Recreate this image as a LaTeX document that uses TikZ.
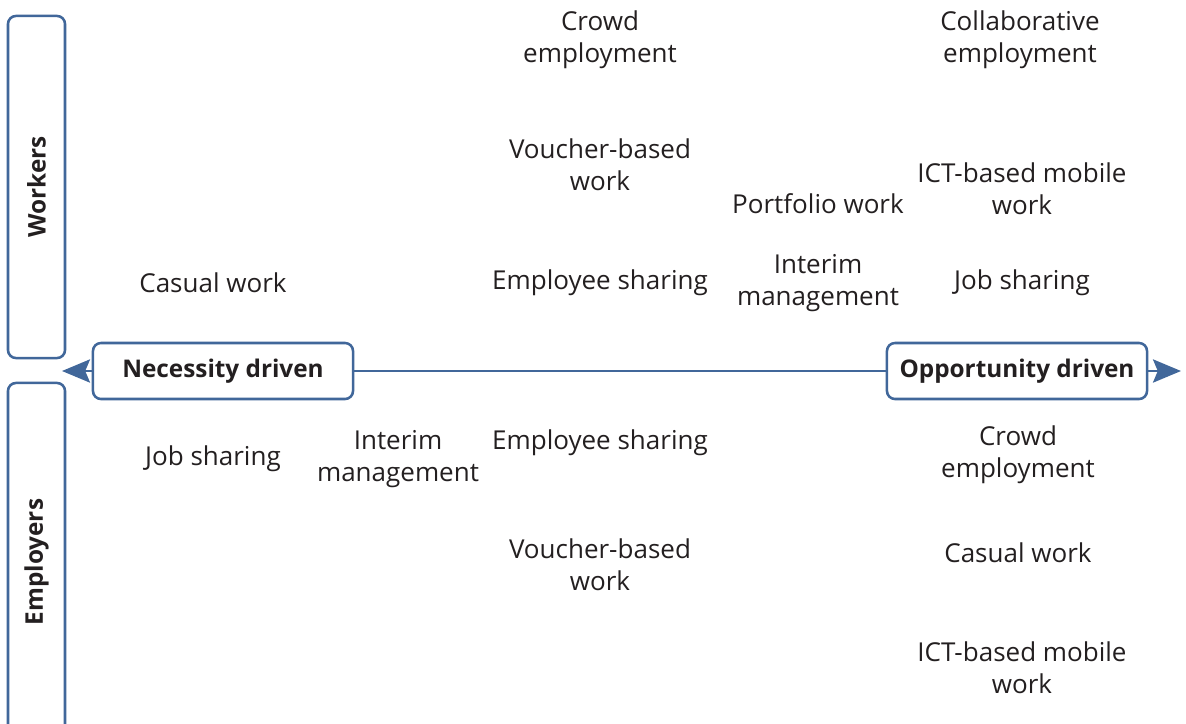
\documentclass[tikz,border=0pt]{standalone}
\usepackage{fontspec}
\setmainfont{Open Sans}
\usetikzlibrary{arrows.meta}
\definecolor{frame}{HTML}{41679A}
\definecolor{ink}{HTML}{231F20}

\begin{document}
\begin{tikzpicture}[x=0.025cm, y=-0.025cm,
  item/.style={text=ink, align=center, font=\fontsize{18.5}{22.8}\selectfont, inner sep=0},
  drive/.style={draw=frame, line width=1.8pt, rounded corners=0.2cm, fill=white, text=ink,
    font=\bfseries\fontsize{17.3}{20}\selectfont, minimum width=6.5cm, minimum height=1.4cm, inner sep=0},
  side/.style={draw=frame, line width=1.8pt, rounded corners=0.2cm, text=ink, rotate=90,
    font=\bfseries\fontsize{17.3}{20}\selectfont, minimum height=1.425cm, inner sep=0}]
\clip (0,0) rectangle (1186,724);
\useasboundingbox (0,0) rectangle (1186,724);
% side boxes
\node[side, minimum width=8.55cm] (workers) at (36.5,187) {Workers};
\node[side, minimum width=8.95cm] (employers) at (36.5,562) {Employers};
% axis
\node[drive] (necessity) at (223,371) {Necessity driven};
\node[drive] (opportunity) at (1017,371) {Opportunity driven};
\coordinate (lefttip) at (62,371);
\coordinate (righttip) at (1181,371);
\draw[frame, line width=1.8pt] (necessity.east) -- (opportunity.west);
\draw[frame, line width=1.8pt, -{Stealth[length=0.7cm, width=0.58cm, inset=0.12cm]}] (necessity.west) -- (lefttip);
\draw[frame, line width=1.8pt, -{Stealth[length=0.7cm, width=0.58cm, inset=0.12cm]}] (opportunity.east) -- (righttip);
% workers
\foreach \n/\x/\y/\t in {
  wcrowd/600/40/{Crowd\\employment},
  wcollab/1020/40/{Collaborative\\employment},
  wvoucher/600/165/{Voucher-based\\work},
  wict/1022/189/{ICT-based mobile\\work},
  wportfolio/818/204/{Portfolio work},
  wcasual/213/283/{Casual work},
  wsharing/600/283/{Employee sharing},
  winterim/818/283/{Interim\\management},
  wjob/1022/283/{Job sharing}} {
 \node[item] (\n) at (\x,\y) {\t};
}
% employers
\foreach \n/\x/\y/\t in {
  ejob/213/459/{Job sharing},
  einterim/398/459/{Interim\\management},
  esharing/600/443/{Employee sharing},
  ecrowd/1018/455/{Crowd\\employment},
  evoucher/600/565/{Voucher-based\\work},
  ecasual/1018/553/{Casual work},
  eict/1022/668/{ICT-based mobile\\work}} {
 \node[item] (\n) at (\x,\y) {\t};
}
\end{tikzpicture}
\end{document}
